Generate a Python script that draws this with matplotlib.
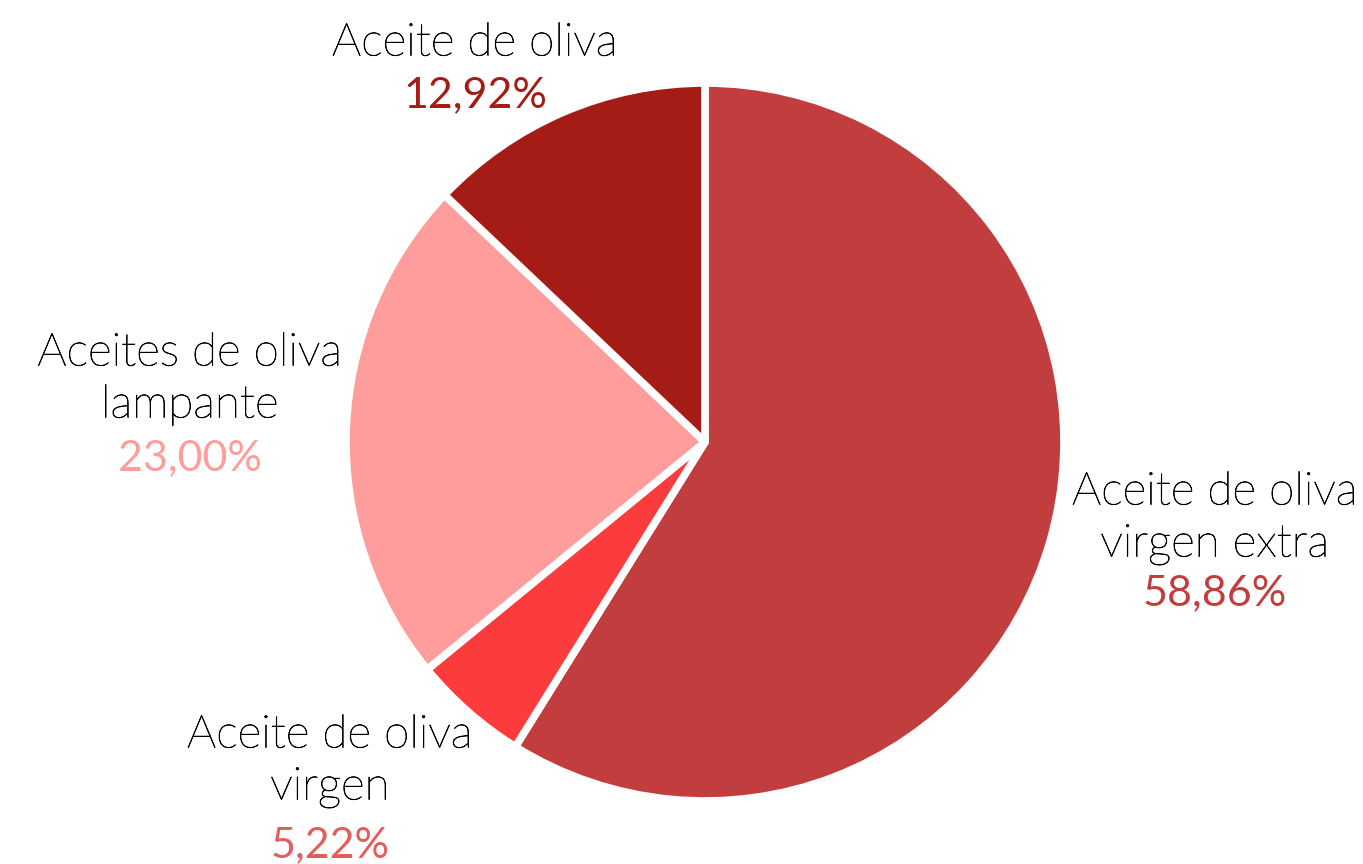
import matplotlib
matplotlib.use("Agg")
import matplotlib.pyplot as plt
import matplotlib.patheffects as pe

categories = ["Aceite de oliva\nvirgen extra", "Aceite de oliva\nvirgen", "Aceites de oliva\nlampante", "Aceite de oliva"]
values = [58.86, 5.22, 23.00, 12.92]
pct_labels = ["58,86%", "5,22%", "23,00%", "12,92%"]
slice_colors = ["#C23E3E", "#FC3B3D", "#FF9C9C", "#A51C16"]
pct_colors = ["#C23E3E", "#E35D5D", "#FF9C9C", "#A51C16"]

W, H = 1363, 864
fig = plt.figure(figsize=(W / 100, H / 100), dpi=100)
cx, cy, r = 705, 442, 359
ax = fig.add_axes([(cx - r) / W, (H - cy - r) / H, 2 * r / W, 2 * r / H])
ax.pie(values, colors=slice_colors, startangle=90, counterclock=False,
       wedgeprops=dict(edgecolor="white", linewidth=5.5, joinstyle="round"))
ax.set_xlim(-1, 1)
ax.set_ylim(-1, 1)
ax.set_aspect("equal")
ax.axis("off")

# label layout (pixel positions: center x, first line y, percent y)
layout = [(1215, 492, 593), (330, 735, 845), (190, 353, 458), (475, 43, 95)]
fam = ["Lato", "DejaVu Sans"]
thick = [pe.withStroke(linewidth=0.5, foreground="#000000")]
for cat, pct, pc, (x, y0, yp) in zip(categories, pct_labels, pct_colors, layout):
    lines = cat.split("\n")
    for i, ln in enumerate(lines):
        fig.text(x / W, 1 - (y0 + i * 52) / H, ln, ha="center", va="center",
                 fontsize=33, fontweight="light", family=fam, color="#000000",
                 path_effects=thick)
    fig.text(x / W, 1 - yp / H, pct, ha="center", va="center",
             fontsize=31, fontweight="normal", family=fam, color=pc)

fig.savefig("out.png", dpi=100, facecolor="white")
